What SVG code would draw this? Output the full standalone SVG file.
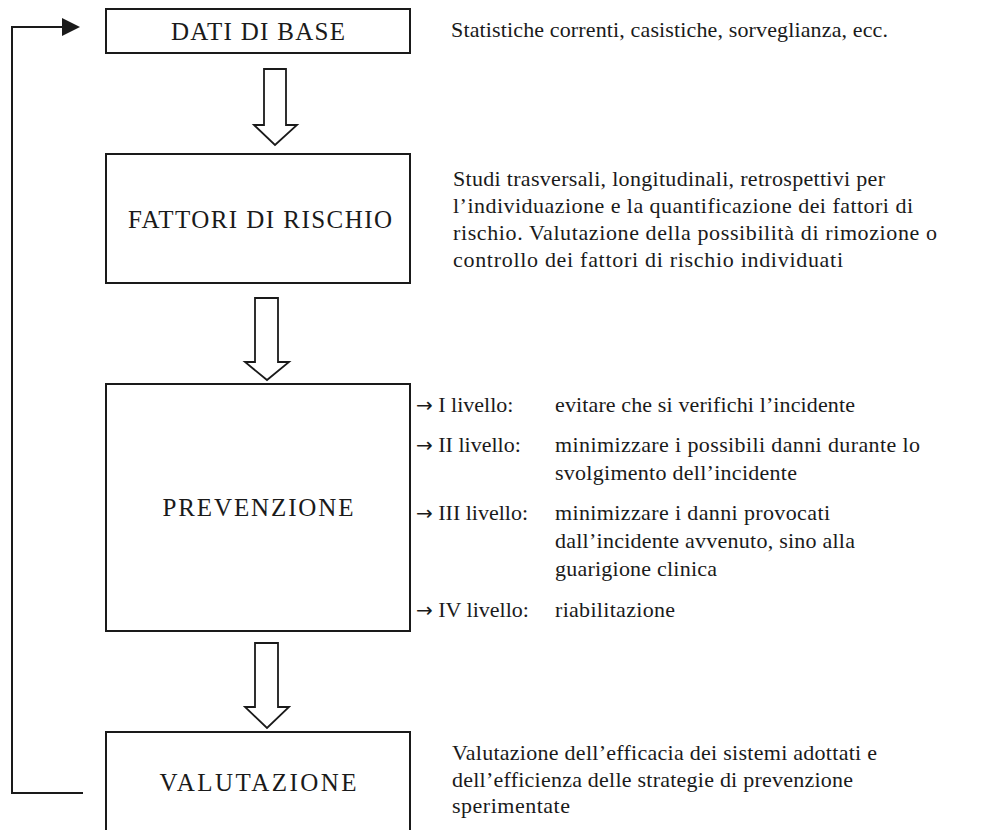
<svg xmlns="http://www.w3.org/2000/svg" width="1008" height="830" viewBox="0 0 1008 830">
<style>
.box{fill:#fff;stroke:#1a1a1a;stroke-width:2}
.harrow{fill:#fff;stroke:#1a1a1a;stroke-width:1.8;stroke-linejoin:miter}
.conn{fill:none;stroke:#1a1a1a;stroke-width:2}
.lbl{font-family:"Liberation Serif","Times New Roman",serif;font-size:25px;fill:#1a1a1a;text-anchor:middle}
.txt{font-family:"Liberation Serif","Times New Roman",serif;font-size:22px;fill:#1a1a1a}
.arr{font-family:"DejaVu Sans",sans-serif;font-size:20px}
</style>
<rect width="1008" height="830" fill="#fff"/>

<g id="connectors">
<polyline class="conn" points="83,793 12,793 12,27 63,27"/>
<path d="M62,18 L80,27 L62,36 Z" fill="#1a1a1a"/>
<path class="harrow" d="M264,69 H286 V125 H297 L275,145 L254,125 H264 Z"/>
<path class="harrow" d="M255,298 H278 V362 H289 L267,380 L245,362 H255 Z"/>
<path class="harrow" d="M255,643 H278 V707 H289 L267,728 L245,707 H255 Z"/>
</g>

<g id="node-dati">
<rect class="box" x="106" y="9" width="304" height="44"/>
<text class="lbl" x="258" y="40" textLength="174">DATI DI BASE</text>
<text class="txt" x="451" y="37" textLength="437">Statistiche correnti, casistiche, sorveglianza, ecc.</text>
</g>

<g id="node-fattori">
<rect class="box" x="106" y="154" width="304" height="129"/>
<text class="lbl" x="260" y="228" textLength="264">FATTORI DI RISCHIO</text>
<text class="txt" x="453" y="186" textLength="432">Studi trasversali, longitudinali, retrospettivi per</text>
<text class="txt" x="453" y="213" textLength="460">l’individuazione e la quantificazione dei fattori di</text>
<text class="txt" x="453" y="240" textLength="484">rischio. Valutazione della possibilità di rimozione o</text>
<text class="txt" x="453" y="267" textLength="390">controllo dei fattori di rischio individuati</text>
</g>

<g id="node-prevenzione">
<rect class="box" x="106" y="384" width="304" height="247"/>
<text class="lbl" x="258" y="516" textLength="191">PREVENZIONE</text>
<text class="txt" x="416" y="412"><tspan class="arr">→</tspan> I livello:</text>
<text class="txt" x="555" y="412" textLength="300">evitare che si verifichi l’incidente</text>
<text class="txt" x="416" y="452"><tspan class="arr">→</tspan> II livello:</text>
<text class="txt" x="555" y="452" textLength="365">minimizzare i possibili danni durante lo</text>
<text class="txt" x="555" y="480" textLength="242">svolgimento dell’incidente</text>
<text class="txt" x="416" y="520"><tspan class="arr">→</tspan> III livello:</text>
<text class="txt" x="555" y="520" textLength="275">minimizzare i danni provocati</text>
<text class="txt" x="555" y="548" textLength="300">dall’incidente avvenuto, sino alla</text>
<text class="txt" x="555" y="576" textLength="162">guarigione clinica</text>
<text class="txt" x="416" y="617"><tspan class="arr">→</tspan> IV livello:</text>
<text class="txt" x="555" y="617" textLength="120">riabilitazione</text>
</g>

<g id="node-valutazione">
<rect class="box" x="106" y="732" width="304" height="110"/>
<text class="lbl" x="258" y="791" textLength="197">VALUTAZIONE</text>
<text class="txt" x="452" y="760" textLength="425">Valutazione dell’efficacia dei sistemi adottati e</text>
<text class="txt" x="452" y="787" textLength="401">dell’efficienza delle strategie di prevenzione</text>
<text class="txt" x="452" y="813" textLength="118">sperimentate</text>
</g>
</svg>
